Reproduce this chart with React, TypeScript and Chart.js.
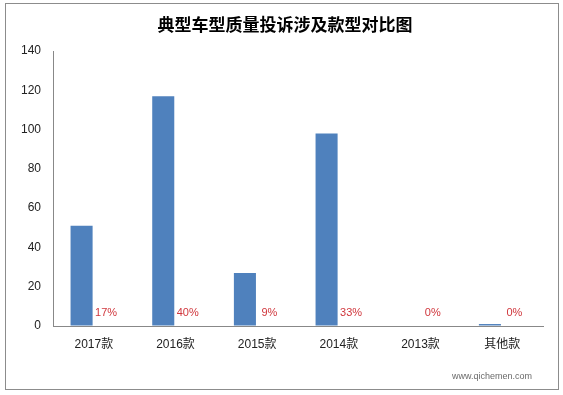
import React, { useEffect, useRef } from "react";
import { Chart, registerables } from "chart.js";

Chart.register(...registerables);

const TITLE = "典型车型质量投诉涉及款型对比图";
const categories = ["2017款", "2016款", "2015款", "2014款", "2013款", "其他款"];
const complaints = [51, 117, 27, 98, 0, 1];
const shares = [0.17, 0.4, 0.09, 0.33, 0, 0];
const yTicks = [0, 20, 40, 60, 80, 100, 120, 140];
const WATERMARK = "www.qichemen.com";

const FONT = "'Liberation Sans', 'Noto Sans CJK SC', sans-serif";

const decorPlugin = {
  id: "decor",
  beforeDraw(chart: any) {
    const ctx = chart.ctx;
    ctx.save();
    ctx.fillStyle = "#ffffff";
    ctx.fillRect(0, 0, chart.width, chart.height);
    ctx.strokeStyle = "#8c8c8c";
    ctx.lineWidth = 1;
    ctx.strokeRect(5.5, 3.5, 553, 386);
    ctx.fillStyle = "#000000";
    ctx.font = "bold 17px 'Noto Sans CJK SC', sans-serif";
    ctx.textAlign = "center";
    ctx.textBaseline = "middle";
    ctx.fillText(TITLE, 285, 24.5);
    ctx.restore();
  },
  afterDatasetsDraw(chart: any) {
    const ctx = chart.ctx;
    const meta = chart.getDatasetMeta(1);
    const yScale = chart.scales.y;
    ctx.save();
    ctx.fillStyle = "#d0363c";
    ctx.font = "11px " + FONT;
    ctx.textAlign = "center";
    ctx.textBaseline = "middle";
    meta.data.forEach((el: any, i: number) => {
      const v = chart.data.datasets[1].data[i] as number;
      ctx.fillText(Math.round(v * 100) + "%", el.x, yScale.getPixelForValue(0) - 13);
    });
    ctx.fillStyle = "#6a6a6a";
    ctx.font = "9px " + FONT;
    ctx.textAlign = "left";
    ctx.fillText(WATERMARK, 452, 377);
    ctx.restore();
  },
};

export default function App() {
  const ref = useRef<HTMLCanvasElement>(null);
  useEffect(() => {
    if (!ref.current) return;
    const chart = new Chart(ref.current, {
      type: "bar",
      data: {
        labels: categories,
        datasets: [
          {
            label: "投诉量",
            data: complaints,
            backgroundColor: "#4f81bd",
            barPercentage: 0.9,
            categoryPercentage: 0.6,
          },
          {
            label: "占比",
            data: shares,
            backgroundColor: "rgba(192,80,77,0)",
            barPercentage: 0.9,
            categoryPercentage: 0.6,
          },
        ],
      },
      options: {
        responsive: false,
        animation: false,
        layout: { padding: { left: 0, top: 51, right: 20, bottom: 39 } },
        plugins: {
          legend: { display: false },
          title: { display: false },
          tooltip: { enabled: false },
        },
        scales: {
          x: {
            grid: { display: true, drawOnChartArea: false, drawTicks: false },
            border: { display: true, color: "#888888", width: 1 },
            ticks: {
              color: "#222222",
              font: { family: FONT, size: 12 },
              padding: 11,
              maxRotation: 0,
            },
            afterFit: (s: any) => {
              s.height = 30;
            },
          },
          y: {
            min: 0,
            max: 140,
            afterBuildTicks: (s: any) => {
              s.ticks = yTicks.map((v) => ({ value: v }));
            },
            grid: { display: true, drawOnChartArea: false, drawTicks: false },
            border: { display: true, color: "#888888", width: 1 },
            ticks: {
              color: "#222222",
              font: { family: FONT, size: 12 },
              padding: 12,
            },
            afterFit: (s: any) => {
              s.width = 53;
            },
          },
        },
      },
      plugins: [decorPlugin],
    });
    return () => chart.destroy();
  }, []);
  return (
    <div style={{ position: "fixed", left: 0, top: 0, width: 563, height: 395 }}>
      <canvas ref={ref} width={563} height={395} style={{ display: "block" }} />
    </div>
  );
}
